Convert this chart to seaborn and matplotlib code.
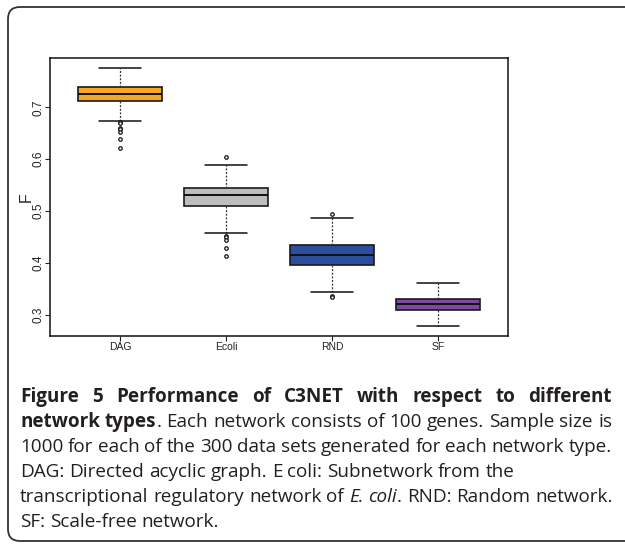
import numpy as np
import pandas as pd
import matplotlib
matplotlib.use("Agg")

import matplotlib.pyplot as plt
import seaborn as sns
from matplotlib.patches import FancyBboxPatch

# Data
categories = ["DAG", "Ecoli", "RND", "SF"]

whisker_low = [0.674, 0.457, 0.343, 0.278]
q1 = [0.713, 0.509, 0.396, 0.310]
median = [0.726, 0.530, 0.415, 0.320]
q3 = [0.740, 0.545, 0.434, 0.331]
whisker_high = [0.775, 0.588, 0.486, 0.362]

outliers_dag = [0.671, 0.669, 0.660, 0.658, 0.653, 0.639, 0.621]
outliers_ecoli = [0.605, 0.452, 0.449, 0.445, 0.429, 0.413]
outliers_rnd = [0.494, 0.337, 0.334]
outliers_sf = []

box_colors = ["#F5A623", "#BEBEBE", "#2C4E9E", "#7B4A9C"]

y_ticks = [0.3, 0.4, 0.5, 0.6, 0.7]

# Style
sns.set_style("white")
plt.rcParams["font.family"] = ["Liberation Sans", "DejaVu Sans"]

fig = plt.figure(figsize=(6.25, 5.47), dpi=100)

ax = fig.add_axes([50 / 625, 1 - 336 / 547, 458 / 625, 278 / 547])

# Outliers through seaborn
out_df = pd.DataFrame({
    "type": (["DAG"] * len(outliers_dag)
             + ["Ecoli"] * len(outliers_ecoli)
             + ["RND"] * len(outliers_rnd)
             + ["SF"] * len(outliers_sf)),
    "F": outliers_dag + outliers_ecoli + outliers_rnd + outliers_sf,
})

sns.stripplot(
    data=out_df,
    x="type",
    y="F",
    order=categories,
    jitter=False,
    color="white",
    edgecolor="#111111",
    linewidth=0.9,
    size=2.5,
    zorder=4,
    ax=ax
)

# Boxes from the summary stats
stats = []
for i, name in enumerate(categories):
    stats.append({
        "label": name,
        "whislo": whisker_low[i],
        "q1": q1[i],
        "med": median[i],
        "q3": q3[i],
        "whishi": whisker_high[i],
        "fliers": [],
    })

boxes = ax.bxp(
    stats,
    positions=range(len(categories)),
    widths=0.8,
    patch_artist=True,
    showfliers=False,
    manage_ticks=False,
    boxprops=dict(edgecolor="#1a1a1a", linewidth=1.2),
    medianprops=dict(color="#111111", linewidth=1.4),
    whiskerprops=dict(color="#333333", linewidth=0.9, linestyle=(0, (1.6, 1.3))),
    capprops=dict(color="#111111", linewidth=1.1),
    capwidths=0.4,
)

for patch, c in zip(boxes["boxes"], box_colors):
    patch.set_facecolor(c)

ax.set_xlim(-0.66, 3.66)
ax.set_ylim(0.259, 0.795)

ax.set_xticks(range(len(categories)))
ax.set_xticklabels(categories, fontsize=7.5)
ax.set_yticks(y_ticks)
ax.set_yticklabels([f"{v:.1f}" for v in y_ticks], fontsize=8.5, rotation=90, va="center")
ax.tick_params(axis="both", direction="out", length=3.5, width=0.8, colors="#222222", pad=1,
               bottom=True, left=True)
ax.tick_params(axis="y", pad=0.3)
ax.set_xlabel("")
ax.set_ylabel("F", fontsize=11.5)
ax.yaxis.set_label_coords(-0.035, 0.5)

for sp in ax.spines.values():
    sp.set_visible(True)
    sp.set_color("#111111")
    sp.set_linewidth(1.1)

# Outer rounded frame
frame = FancyBboxPatch(
    (8, 547 - 541),
    660,
    534,
    boxstyle="round,pad=0,rounding_size=12",
    transform=None,
    facecolor="none",
    edgecolor="#333333",
    linewidth=1.3,
)
fig.add_artist(frame)

# Caption
cap_font = ["Open Sans", "DejaVu Sans"]
cap_size = 13.6
cap_color = "#231F20"

caption_lines = [
    ([("Figure 5 Performance of C3NET with respect to different", "bold", "normal")], True),
    ([("network types", "bold", "normal"),
      (". Each network consists of 100 genes. Sample size is", "normal", "normal")], True),
    ([("1000 for each of the 300 data sets generated for each network type.", "normal", "normal")], True),
    ([("DAG: Directed acyclic graph. E coli: Subnetwork from the", "normal", "normal")], False),
    ([("transcriptional regulatory network of", "normal", "normal"),
      (" E. coli", "normal", "italic"),
      (". RND: Random network.", "normal", "normal")], False),
    ([("SF: Scale-free network.", "normal", "normal")], False),
]

x_left = 20
x_right = 612
y_first = 397
line_step = 25

renderer = fig.canvas.get_renderer()

sp_t = fig.text(0, 0, "a a", fontsize=cap_size, family=cap_font)
a_t = fig.text(0, 0, "aa", fontsize=cap_size, family=cap_font)
sp_w = (sp_t.get_window_extent(renderer=renderer).width
        - a_t.get_window_extent(renderer=renderer).width)
sp_t.remove()
a_t.remove()

for li, (segments, justify) in enumerate(caption_lines):
    y_pix = 547 - (y_first + li * line_step)

    # split into words, a word glued to the previous one if no space between
    words = []
    for text, weight, style in segments:
        parts = text.split(" ")
        for pi, p in enumerate(parts):
            if p == "":
                continue
            glued = (pi == 0 and len(words) > 0)
            words.append((p, weight, style, glued))

    artists = []
    widths = []
    for w, weight, style, _ in words:
        t = fig.text(0, 0, w, fontsize=cap_size, family=cap_font, fontweight=weight,
                     fontstyle=style, color=cap_color, va="center", ha="left")
        artists.append(t)
        widths.append(t.get_window_extent(renderer=renderer).width)

    n_gaps = sum(1 for w in words[1:] if not w[3])
    natural = sum(widths) + n_gaps * sp_w
    gap = sp_w
    if justify and n_gaps > 0:
        gap = sp_w + (x_right - x_left - natural) / n_gaps

    x = x_left
    for i, (t, wd) in enumerate(zip(artists, widths)):
        if i > 0 and not words[i][3]:
            x += gap
        t.set_position((x / 625, y_pix / 547))
        x += wd

plt.savefig("out.png", dpi=100)
